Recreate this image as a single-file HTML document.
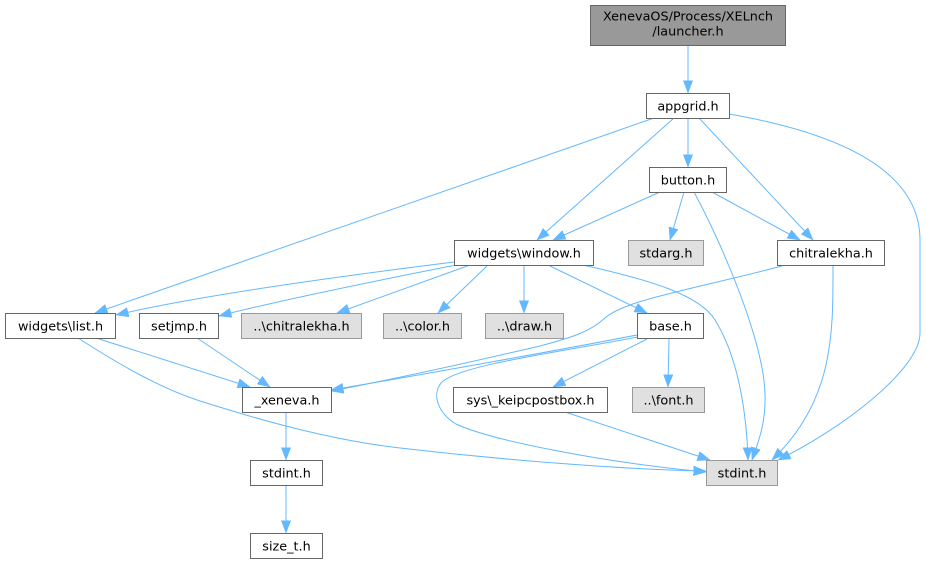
<!DOCTYPE html>
<html><head><meta charset="utf-8"><style>
html,body{margin:0;padding:0;background:#fff;}
svg{display:block;}
text{font-family:"DejaVu Sans","Liberation Sans",sans-serif;font-size:12.8px;fill:#000;text-anchor:middle;}
.e{fill:none;stroke:#63b8ff;stroke-width:1;marker-end:url(#a);}
.w{fill:#fff;stroke:#666;stroke-width:1;}
.g{fill:#e0e0e0;stroke:#999;stroke-width:1;}
</style></head><body>
<svg width="927" height="564" viewBox="0 0 927 564" xmlns="http://www.w3.org/2000/svg">
<defs><marker id="a" markerWidth="13" markerHeight="10" refX="12.5" refY="4.75" orient="auto" markerUnits="userSpaceOnUse"><path d="M0,0 L12.5,4.75 L0,9.5 z" fill="#63b8ff" stroke="#63b8ff" stroke-width="0.5"/></marker></defs>
<!-- edges -->
<path class="e" d="M688,45 L688,93"/>
<path class="e" d="M688,118 L688,167"/>
<path class="e" d="M654,118 L95,313"/>
<path class="e" d="M674,118 L537,240"/>
<path class="e" d="M699,118 L813,240"/>
<path class="e" d="M729,114 C850,135 920,175 920,240 L920,333 C920,370 840,430 778,460"/>
<path class="e" d="M660,192 L553,240"/>
<path class="e" d="M684,192 L670,240"/>
<path class="e" d="M694,192 C720,240 764,340 765,395 C766,425 757,445 752,460"/>
<path class="e" d="M712,192 L800,240"/>
<path class="e" d="M833,265 C833,330 835,400 772,460"/>
<path class="e" d="M782,266 C690,290 625,300 605,318 C590,332 570,338 540,346 C480,360 400,378 331,391"/>
<path class="e" d="M454,262 C350,275 200,295 116,315"/>
<path class="e" d="M456,265 C380,280 280,300 219,316"/>
<path class="e" d="M470,265 L337,313"/>
<path class="e" d="M487,266 L438,313"/>
<path class="e" d="M524,266 L524,313"/>
<path class="e" d="M548,265 L647,313"/>
<path class="e" d="M583,265 C650,280 700,295 715,320 C740,360 747,420 748,460"/>
<path class="e" d="M647,339 L553,387"/>
<path class="e" d="M669,339 L668,387"/>
<path class="e" d="M637,335 C560,350 420,375 331,390"/>
<path class="e" d="M638,337 C560,352 460,365 442,382 C430,395 440,415 456,424 C490,440 600,462 706,472"/>
<path class="e" d="M96,338 L250,387"/>
<path class="e" d="M78,338 C120,365 160,388 200,401 C260,420 330,440 400,448 C520,462 640,470 706,471"/>
<path class="e" d="M197,338 L270,387"/>
<path class="e" d="M565,412 L710,460"/>
<path class="e" d="M286,412 L286,460"/>
<path class="e" d="M286,485 L286,533"/>
<!-- nodes -->
<rect x="590.5" y="5.5" width="195" height="40" fill="#999" stroke="#666"/>
<text x="688" y="20.5">XenevaOS/Process/XELnch</text>
<text x="688" y="35.5">/launcher.h</text>

<rect class="w" x="646.5" y="93.5" width="83" height="25"/><text x="688" y="110.5">appgrid.h</text>
<rect class="w" x="649.5" y="167.5" width="77" height="25"/><text x="688" y="184.5">button.h</text>
<rect class="g" x="628.5" y="240.5" width="75" height="25"/><text x="666" y="257.5">stdarg.h</text>
<rect class="w" x="777.5" y="240.5" width="107" height="25"/><text x="831" y="257.5">chitralekha.h</text>
<rect class="w" x="454.5" y="240.5" width="139" height="25"/><text x="524" y="257.5">widgets\window.h</text>
<rect class="w" x="5.5" y="313.5" width="110" height="25"/><text x="60.5" y="330.5">widgets\list.h</text>
<rect class="w" x="139.5" y="313.5" width="79" height="25"/><text x="179" y="330.5">setjmp.h</text>
<rect class="g" x="241.5" y="313.5" width="120" height="25"/><text x="301.5" y="330.5">..\chitralekha.h</text>
<rect class="g" x="383.5" y="313.5" width="78" height="25"/><text x="422.5" y="330.5">..\color.h</text>
<rect class="g" x="485.5" y="313.5" width="78" height="25"/><text x="524.5" y="330.5">..\draw.h</text>
<rect class="w" x="637.5" y="313.5" width="66" height="25"/><text x="670.5" y="330.5">base.h</text>
<rect class="w" x="242.5" y="387.5" width="89" height="25"/><text x="287" y="404.5">_xeneva.h</text>
<rect class="w" x="453.5" y="387.5" width="154" height="25"/><text x="530.5" y="404.5">sys\_keipcpostbox.h</text>
<rect class="g" x="632.5" y="387.5" width="72" height="25"/><text x="668.5" y="404.5">..\font.h</text>
<rect class="g" x="706.5" y="460.5" width="71" height="25"/><text x="742" y="477.5">stdint.h</text>
<rect class="w" x="250.5" y="460.5" width="72" height="25"/><text x="286.5" y="477.5">stdint.h</text>
<rect class="w" x="250.5" y="533.5" width="72" height="25"/><text x="286.5" y="550.5">size_t.h</text>
</svg>
</body></html>
